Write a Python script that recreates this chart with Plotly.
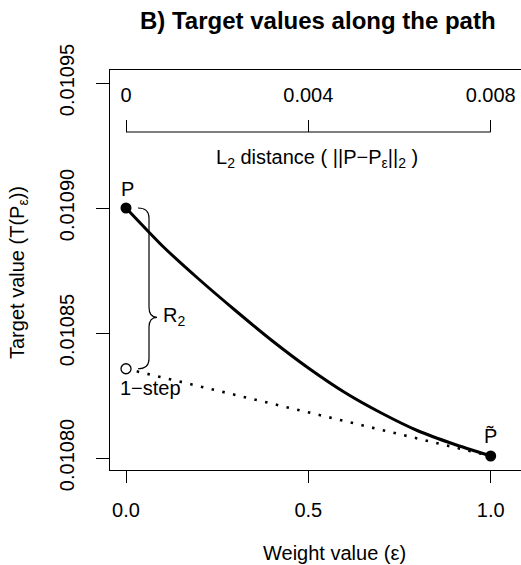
import plotly.graph_objects as go

# ---- data ----
eps = [0.0, 0.1, 0.2, 0.3, 0.4, 0.5, 0.6, 0.7, 0.8, 0.9, 1.0]
target = [0.0109000, 0.0108848, 0.0108715, 0.0108590, 0.0108470, 0.0108360,
          0.0108262, 0.0108180, 0.0108109, 0.0108055, 0.0108008]
onestep_eps = [0.0, 1.0]
onestep_val = [0.0108357, 0.0108008]
x_ticks = [0.0, 0.5, 1.0]
x_ticktext = ["0.0", "0.5", "1.0"]
y_ticks = [0.01080, 0.01085, 0.01090, 0.01095]
y_ticktext = ["0.01080", "0.01085", "0.01090", "0.01095"]
l2_ticks = [0.0, 0.004, 0.008]
l2_ticktext = ["0", "0.004", "0.008"]
l2_max = 0.008   # L2 distance at eps = 1

# ---- layout geometry ----
W, H = 521, 565
ML, MR, MT, MB = 110, 0, 70, 95
PW, PH = W - ML - MR, H - MT - MB
xr = [-0.0439, 1.0831]
yr = [0.0107952, 0.0109552]
FONT = "Liberation Sans, Arial, Helvetica, sans-serif"


def px2paper_x(px):
    return (px - ML) / PW


def px2paper_y(py):
    return (H - MB - py) / PH


def px2data_x(px):
    return xr[0] + (px - ML) / PW * (xr[1] - xr[0])


def dy_px(n):
    return n / PH * (yr[1] - yr[0])


fig = go.Figure()

fig.add_trace(go.Scatter(x=eps, y=target, mode="lines",
                         line=dict(color="black", width=3, shape="spline", smoothing=0.6),
                         showlegend=False, hoverinfo="skip"))
fig.add_trace(go.Scatter(x=onestep_eps, y=onestep_val, mode="lines",
                         line=dict(color="black", width=2.6, dash="2.5px,8.5px"),
                         showlegend=False, hoverinfo="skip"))
fig.add_trace(go.Scatter(x=[onestep_eps[0]], y=[onestep_val[0]], mode="markers",
                         marker=dict(size=10, color="white", line=dict(color="black", width=1.3)),
                         showlegend=False, hoverinfo="skip"))
fig.add_trace(go.Scatter(x=[eps[0], eps[-1]], y=[target[0], target[-1]], mode="markers",
                         marker=dict(size=11, color="black"),
                         showlegend=False, hoverinfo="skip"))
# invisible trace to activate the top L2 axis
fig.add_trace(go.Scatter(x=[0], y=[target[0]], xaxis="x2", yaxis="y", mode="markers",
                         marker=dict(size=1, opacity=0), showlegend=False, hoverinfo="skip"))

# brace between P and 1-step
p_val, s_val = target[0], onestep_val[0]
span = p_val - s_val
xa, xb, xc = px2data_x(138), px2data_x(149), px2data_x(157)
tip = p_val - 0.68 * span
d = dy_px(10)
path = (f"M {xa},{p_val} Q {xb},{p_val} {xb},{p_val - d} "
        f"L {xb},{tip + d} Q {xb},{tip} {xc},{tip} "
        f"Q {xb},{tip} {xb},{tip - d} "
        f"L {xb},{s_val + d} Q {xb},{s_val} {xa},{s_val}")
fig.add_shape(type="path", path=path, xref="x", yref="y",
              line=dict(color="black", width=1.2))

# top L2 axis line spanning from 0 to l2_max (eps 0..1)
top_axis_y = px2paper_y(132)
fig.add_shape(type="line", xref="x", yref="paper",
              x0=l2_ticks[0] / l2_max, x1=l2_ticks[-1] / l2_max,
              y0=top_axis_y, y1=top_axis_y, line=dict(color="black", width=1.2))

fig.update_layout(
    width=W, height=H,
    margin=dict(l=ML, r=MR, t=MT, b=MB),
    paper_bgcolor="white", plot_bgcolor="white",
    font=dict(family=FONT, size=20, color="black"),
    xaxis=dict(range=xr, tickvals=x_ticks, ticktext=x_ticktext,
               ticks="outside", ticklen=12, tickwidth=1.2, tickcolor="black",
               showline=True, linecolor="black", linewidth=1.2, mirror=True,
               showgrid=False, zeroline=False, ticklabelstandoff=10),
    yaxis=dict(range=yr, tickvals=y_ticks, ticktext=y_ticktext,
               ticks="outside", ticklen=13, tickwidth=1.2, tickcolor="black",
               tickangle=-90, showline=True, linecolor="black", linewidth=1.2,
               showgrid=False, zeroline=False, ticklabelstandoff=14),
    xaxis2=dict(range=[xr[0] * l2_max, xr[1] * l2_max], overlaying="x", anchor="free",
                position=top_axis_y, side="top",
                tickvals=l2_ticks, ticktext=l2_ticktext,
                ticks="outside", ticklen=12, tickwidth=1.2, tickcolor="black",
                showline=False, showgrid=False, zeroline=False, ticklabelstandoff=10),
    showlegend=False,
)

ann = []
ann.append(dict(text="<b>B) Target values along the path</b>", x=px2paper_x(318), y=px2paper_y(20),
                xref="paper", yref="paper", showarrow=False, font=dict(size=24),
                xanchor="center", yanchor="middle"))
ann.append(dict(text="L<sub>2</sub> distance ( ||P−P<sub>ε</sub>||<sub>2</sub> )",
                x=px2paper_x(317), y=px2paper_y(158), xref="paper", yref="paper",
                showarrow=False, xanchor="center", yanchor="middle"))
ann.append(dict(text="Weight value (ε)", x=px2paper_x(334), y=px2paper_y(553),
                xref="paper", yref="paper", showarrow=False, xanchor="center", yanchor="middle"))
ann.append(dict(text="Target value (T(P<sub>ε</sub>))", x=px2paper_x(18), y=px2paper_y(273),
                xref="paper", yref="paper", showarrow=False, textangle=-90,
                xanchor="center", yanchor="middle"))
ann.append(dict(text="P", x=eps[0], y=p_val, xref="x", yref="y", showarrow=False,
                yshift=19, xshift=1, xanchor="center", yanchor="middle"))
ann.append(dict(text="P\u0303", x=eps[-1], y=target[-1], xref="x", yref="y", showarrow=False,
                yshift=20, xanchor="center", yanchor="middle"))
ann.append(dict(text="1−step", x=onestep_eps[0], y=s_val, xref="x", yref="y", showarrow=False,
                yshift=-19, xshift=-8, xanchor="left", yanchor="middle"))
ann.append(dict(text="R<sub>2</sub>", x=xc, y=tip, xref="x", yref="y", showarrow=False,
                xshift=4, yshift=1, xanchor="left", yanchor="middle"))
fig.update_layout(annotations=ann)

fig.write_html("out.html")
